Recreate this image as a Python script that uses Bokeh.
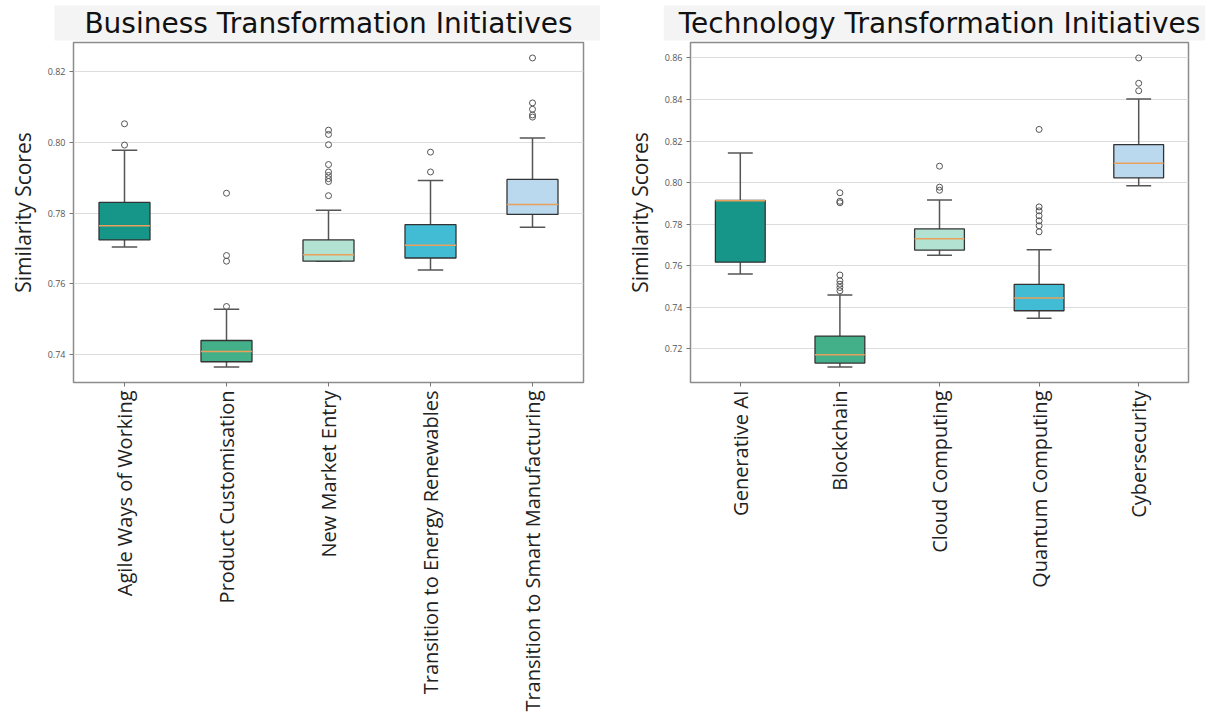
import math
from bokeh.plotting import figure
from bokeh.layouts import row
from bokeh.models import Range1d, FixedTicker, SingleIntervalTicker, NumeralTickFormatter, ColumnDataSource
from bokeh.embed import file_html
from bokeh.resources import INLINE

# ---------------- data ----------------
biz_cats = ["Agile Ways of Working", "Product Customisation", "New Market Entry",
            "Transition to Energy Renewables", "Transition to Smart Manufacturing"]
biz_lw = [0.7704, 0.7365, 0.7664, 0.7639, 0.7760]
biz_q1 = [0.7724, 0.7380, 0.7664, 0.7673, 0.7796]
biz_med = [0.7764, 0.7409, 0.7682, 0.7709, 0.7824]
biz_q3 = [0.7830, 0.7440, 0.7724, 0.7767, 0.7895]
biz_uw = [0.7977, 0.7528, 0.7808, 0.7892, 0.8012]
biz_out = [
    [0.7992, 0.8052],
    [0.7536, 0.7664, 0.7680, 0.7856],
    [0.7849, 0.7889, 0.7897, 0.7906, 0.7916, 0.7937, 0.7993, 0.8022, 0.8034],
    [0.7916, 0.7972],
    [0.8071, 0.8077, 0.8093, 0.8111, 0.8238],
]

tech_cats = ["Generative AI", "Blockchain", "Cloud Computing", "Quantum Computing", "Cybersecurity"]
tech_lw = [0.7560, 0.7112, 0.7650, 0.7347, 0.7985]
tech_q1 = [0.7617, 0.7131, 0.7675, 0.7383, 0.8023]
tech_med = [0.7912, 0.7171, 0.7730, 0.7444, 0.8093]
tech_q3 = [0.7914, 0.7261, 0.7777, 0.7510, 0.8183]
tech_uw = [0.8143, 0.7459, 0.7916, 0.7677, 0.8403]
tech_out = [
    [],
    [0.7479, 0.7495, 0.7511, 0.7527, 0.7555, 0.7903, 0.7910, 0.7951],
    [0.7963, 0.7978, 0.8079],
    [0.7763, 0.7792, 0.7816, 0.7840, 0.7864, 0.7883, 0.8256],
    [0.8442, 0.8478, 0.8600],
]

colors = ["#169689", "#44b08a", "#b2e2d2", "#42bcd4", "#bad9ee"]

FONT = "Open Sans"


def make_panel(title, cats, lw, q1, med, q3, uw, outs, width, border_left, title_pad):
    xs = list(range(1, len(cats) + 1))
    allv = lw + uw + [v for o in outs for v in o]
    lo, hi = min(allv), max(allv)
    pad = (hi - lo) * 0.05
    p = figure(width=width, height=720, output_backend="svg", toolbar_location=None,
               x_range=Range1d(0.5, len(cats) + 0.5), y_range=Range1d(lo - pad, hi + pad),
               min_border_left=border_left, min_border_right=17, min_border_bottom=338,
               min_border_top=42)
    p.title.text = title
    p.title.text_font = "DejaVu Sans"
    p.title.text_font_size = "28px"
    p.title.text_font_style = "normal"
    p.title.text_color = "#111111"
    p.title.align = "center"
    p.title.standoff = 4
    p.title.padding = (title_pad, 1)
    p.title.background_fill_color = "#f4f4f4"

    box = ColumnDataSource(dict(x=xs, q1=q1, q3=q3, med=med, lw=lw, uw=uw, c=colors,
                                cl=[x - 0.125 for x in xs], cr=[x + 0.125 for x in xs],
                                ml=[x - 0.25 for x in xs], mr=[x + 0.25 for x in xs]))
    wc = "#555555"
    p.segment(x0="x", y0="q3", x1="x", y1="uw", source=box, line_color=wc, line_width=1.5)
    p.segment(x0="x", y0="lw", x1="x", y1="q1", source=box, line_color=wc, line_width=1.5)
    p.segment(x0="cl", y0="uw", x1="cr", y1="uw", source=box, line_color=wc, line_width=1.5)
    p.segment(x0="cl", y0="lw", x1="cr", y1="lw", source=box, line_color=wc, line_width=1.5)
    p.vbar(x="x", bottom="q1", top="q3", width=0.5, source=box, fill_color="c",
           line_color="#333333", line_width=1.3)
    p.segment(x0="ml", y0="med", x1="mr", y1="med", source=box, line_color="#e8a05a", line_width=1.5)

    ox = [x for x, o in zip(xs, outs) for _ in o]
    oy = [v for o in outs for v in o]
    p.scatter(ox, oy, marker="circle", size=6, fill_color=None, line_color="#555555", line_width=1)

    p.xgrid.visible = False
    p.ygrid.grid_line_color = "#dddddd"
    p.ygrid.grid_line_width = 1
    p.outline_line_color = "#8c8c8c"
    p.outline_line_width = 1.5

    p.xaxis.ticker = FixedTicker(ticks=xs)
    p.xaxis.major_label_overrides = {x: c for x, c in zip(xs, cats)}
    p.xaxis.major_label_orientation = math.pi / 2
    p.xaxis.major_label_text_font = FONT
    p.xaxis.major_label_text_font_size = "20px"
    p.xaxis.major_label_text_color = "#222222"
    p.xaxis.minor_tick_line_color = None

    p.yaxis.ticker = SingleIntervalTicker(interval=0.02)
    p.yaxis.formatter = NumeralTickFormatter(format="0.00")
    p.yaxis.major_label_text_font = FONT
    p.yaxis.major_label_text_font_size = "9px"
    p.yaxis.major_label_text_color = "#555555"
    p.yaxis.minor_tick_line_color = None
    p.yaxis.axis_label = "Similarity Scores"
    p.yaxis.axis_label_text_font = FONT
    p.yaxis.axis_label_text_font_size = "21px"
    p.yaxis.axis_label_text_font_style = "normal"
    p.yaxis.axis_label_text_color = "#222222"
    p.yaxis.axis_label_standoff = 8
    for ax in (p.xaxis, p.yaxis):
        ax.axis_line_color = None
        ax.major_tick_line_color = "#777777"
        ax.major_tick_out = 4
        ax.major_tick_in = 0
        ax.major_label_standoff = 4
    return p


p1 = make_panel("Business Transformation Initiatives", biz_cats, biz_lw, biz_q1, biz_med,
                biz_q3, biz_uw, biz_out, 600, 73, 30)
p2 = make_panel("Technology Transformation Initiatives", tech_cats, tech_lw, tech_q1, tech_med,
                tech_q3, tech_uw, tech_out, 605, 90, 15)

layout = row(p1, p2)
open("out.html", "w").write(file_html(layout, INLINE))
